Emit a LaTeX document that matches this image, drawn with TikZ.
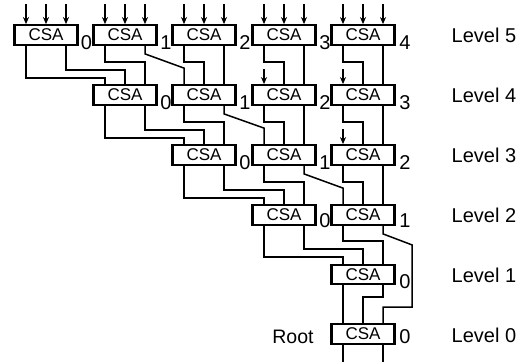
\documentclass[tikz,border=0pt]{standalone}
\usepackage{fontspec}
\setmainfont{Liberation Sans}
\usetikzlibrary{arrows.meta,calc}
\tikzset{
  csabox/.style={draw=black,line width=2.3pt,fill=white,minimum width=63pt,minimum height=19.5pt,inner sep=0pt,font=\fontsize{17}{17}\selectfont},
  wire/.style={draw=black,line width=1.5pt,line join=miter},
  inarrow/.style={wire,-{Stealth[length=7pt,width=6pt]}},
  idx/.style={font=\fontsize{20}{20}\selectfont,inner sep=0pt},
  rootlbl/.style={font=\fontsize{19.5}{20}\selectfont,inner sep=0pt},
  lvl/.style={font=\fontsize{20}{20}\selectfont,inner sep=0pt,anchor=west},
}
\newcommand{\csabox}[3]{%
  \node[csabox] (#1) at (#2,#3) {CSA};
  \coordinate (#1-il) at ($(#1.north)+(-20,0)$);
  \coordinate (#1-im) at (#1.north);
  \coordinate (#1-ir) at ($(#1.north)+(20,0)$);
  \coordinate (#1-ol) at ($(#1.south)+(-20,0)$);
  \coordinate (#1-or) at ($(#1.south)+(20,0)$);
}
\begin{document}
\begin{tikzpicture}[x=1pt,y=-1pt]
\useasboundingbox (0,0) rectangle (526,362);
\csabox{a0}{46}{35}\csabox{a1}{125}{35}\csabox{a2}{204}{35}\csabox{a3}{284}{35}\csabox{a4}{363}{35}
\csabox{b1}{125}{95}\csabox{b2}{204}{95}\csabox{b3}{284}{95}\csabox{b4}{363}{95}
\csabox{c2}{204}{155}\csabox{c3}{284}{155}\csabox{c4}{363}{155}
\csabox{d3}{284}{215}\csabox{d4}{363}{215}
\csabox{e4}{363}{274.5}
\csabox{f4}{363}{334}
% inputs
\foreach \n in {a0,a1,a2,a3,a4}{
  \foreach \p in {il,im,ir}{
    \draw[inarrow] ($(\n-\p)+(0,-20)$) -- (\n-\p);
  }
}
\foreach \n in {b3,b4,c4}{
  \draw[inarrow] ($(\n-il)+(0,-15)$) -- (\n-il);
}
% level 5 to level 4
\draw[wire] (a0-ol) -- ++(0,32) -| (b1-il);
\draw[wire] (a0-or) -- ++(0,24) -| (b1-im);
\draw[wire] (a1-ol) -- ++(0,16) -| (b1-ir);
\draw[wire] (a1-or) -- ++(0,8) -- ($(b2-il)+(0,-16)$) -- (b2-il);
\draw[wire] (a2-ol) -- ++(0,16) -| (b2-im);
\draw[wire] (a2-or) -- (b2-ir);
\draw[wire] (a3-ol) -- ++(0,16) -| (b3-im);
\draw[wire] (a3-or) -- (b3-ir);
\draw[wire] (a4-ol) -- ++(0,16) -| (b4-im);
\draw[wire] (a4-or) -- (b4-ir);
% level 4 to level 3
\draw[wire] (b1-ol) -- ++(0,32) -| (c2-il);
\draw[wire] (b1-or) -- ++(0,24) -| (c2-im);
\draw[wire] (b2-ol) -- ++(0,16) -| (c2-ir);
\draw[wire] (b2-or) -- ++(0,8) -- ($(c3-il)+(0,-16)$) -- (c3-il);
\draw[wire] (b3-ol) -- ++(0,16) -| (c3-im);
\draw[wire] (b3-or) -- (c3-ir);
\draw[wire] (b4-ol) -- ++(0,16) -| (c4-im);
\draw[wire] (b4-or) -- (c4-ir);
% level 3 to level 2
\draw[wire] (c2-ol) -- ++(0,32) -| (d3-il);
\draw[wire] (c2-or) -- ++(0,24) -| (d3-im);
\draw[wire] (c3-ol) -- ++(0,16) -| (d3-ir);
\draw[wire] (c3-or) -- ++(0,8) -- ($(d4-il)+(0,-16)$) -- (d4-il);
\draw[wire] (c4-ol) -- ++(0,16) -| (d4-im);
\draw[wire] (c4-or) -- (d4-ir);
% level 2 to level 1
\draw[wire] (d3-ol) -- ++(0,31) -| (e4-il);
\draw[wire] (d3-or) -- ++(0,23) -| (e4-im);
\draw[wire] (d4-ol) -- ++(0,15) -| (e4-ir);
% level 2 to root
\coordinate (bendA) at ($(d4-or)+(29,19)$);
\coordinate (bendB) at ($(f4-ir)+(29,-16)$);
\draw[wire] (d4-or) -- ++(0,8) -- (bendA) -- (bendB) -- ($(f4-ir)+(0,-16)$) -- (f4-ir);
% level 1 to root
\draw[wire] (e4-ol) -- (f4-il);
\draw[wire] (e4-or) -- ++(0,11.5) -| (f4-im);
% root outputs
\coordinate (outL) at ($(f4-ol)+(0,17)$);
\coordinate (outR) at ($(f4-or)+(0,17)$);
\draw[wire] (f4-ol) -- (outL);
\draw[wire] (f4-or) -- (outR);
% indices
\node[idx] (n50) at (86.5,43) {0};
\node[idx] (n51) at (166,43) {1};
\node[idx] (n52) at (245,43) {2};
\node[idx] (n53) at (325,43) {3};
\node[idx] (n54) at (405,43) {4};
\node[idx] (n40) at (166,103) {0};
\node[idx] (n41) at (245,103) {1};
\node[idx] (n42) at (325,103) {2};
\node[idx] (n43) at (405,103) {3};
\node[idx] (n30) at (245,163) {0};
\node[idx] (n31) at (325,163) {1};
\node[idx] (n32) at (405,163) {2};
\node[idx] (n20) at (325,221) {0};
\node[idx] (n21) at (405,221) {1};
\node[idx] (n10) at (405,282) {0};
\node[idx] (n00) at (405,337) {0};
\node[rootlbl] (root) at (293,337) {Root};
% levels
\node[lvl] (l5) at (451.5,35) {Level 5};
\node[lvl] (l4) at (451.5,95) {Level 4};
\node[lvl] (l3) at (451.5,155) {Level 3};
\node[lvl] (l2) at (451.5,215) {Level 2};
\node[lvl] (l1) at (451.5,275) {Level 1};
\node[lvl] (l0) at (451.5,335) {Level 0};
\end{tikzpicture}
\end{document}
